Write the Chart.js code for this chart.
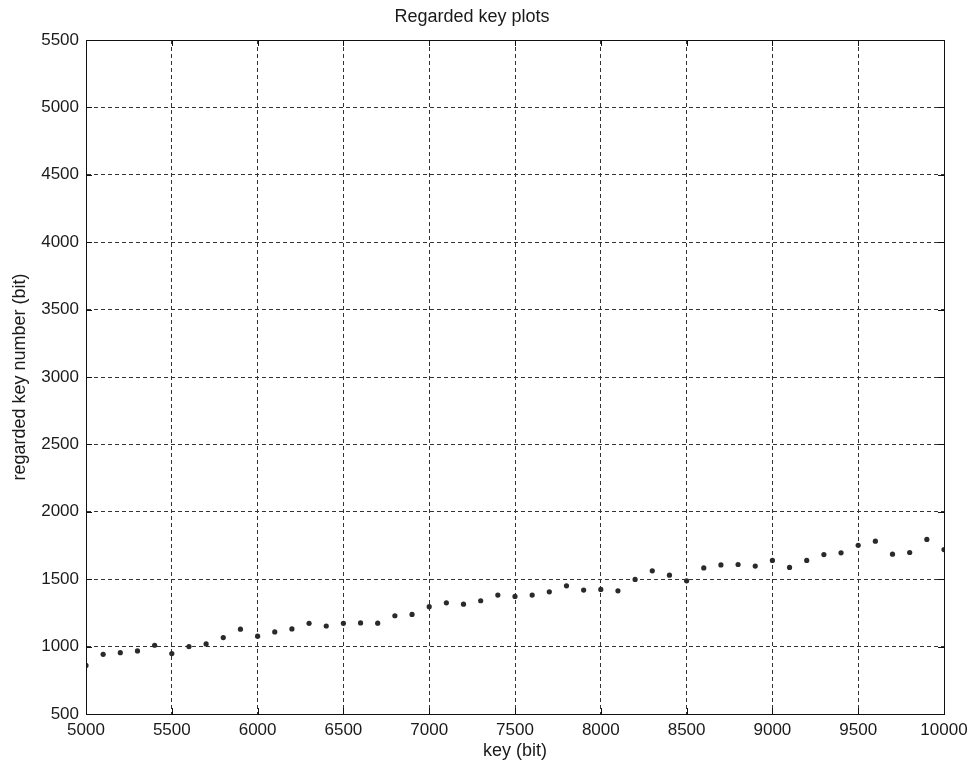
<!DOCTYPE html>
<html>
<head>
<meta charset="utf-8">
<script src="https://cdn.jsdelivr.net/npm/chart.js@4/dist/chart.umd.min.js"></script>
<style>
  html, body { margin: 0; padding: 0; background: #fff; }
  #wrap { width: 974px; height: 762px; }
</style>
</head>
<body>
<div id="wrap"><canvas id="grafico"></canvas></div>
<script>
// key sizes (bit), one point every 100
const chaves = [
  5000, 5100, 5200, 5300, 5400, 5500, 5600, 5700, 5800, 5900,
  6000, 6100, 6200, 6300, 6400, 6500, 6600, 6700, 6800, 6900,
  7000, 7100, 7200, 7300, 7400, 7500, 7600, 7700, 7800, 7900,
  8000, 8100, 8200, 8300, 8400, 8500, 8600, 8700, 8800, 8900,
  9000, 9100, 9200, 9300, 9400, 9500, 9600, 9700, 9800, 9900,
  10000
];

// regarded key number (bit)
const chavesConsideradas = [
  860, 943, 955, 968, 1010, 948, 1000, 1020, 1067, 1129,
  1077, 1109, 1131, 1173, 1153, 1173, 1176, 1174, 1229, 1239,
  1296, 1325, 1315, 1340, 1382, 1372, 1382, 1406, 1451, 1419,
  1424, 1414, 1498, 1562, 1530, 1488, 1584, 1606, 1609, 1597,
  1639, 1587, 1639, 1683, 1696, 1752, 1782, 1686, 1698, 1795,
  1720
];

const ticksX = [5000, 10000, 500];
const ticksY = [500, 5500, 500];

const pontos = chaves.map((k, i) => ({ x: k, y: chavesConsideradas[i] }));

const familia = "'Liberation Sans', Arial, sans-serif";
const fonteTicks = { family: familia, size: 17 };
const fonteTitulo = { family: familia, size: 18, weight: "normal" };

// moldura da area do grafico + ticks para dentro (estilo matlab)
const moldura = {
  id: "moldura",
  afterDraw(chart) {
    const { ctx, chartArea: a, scales } = chart;
    const tam = 6;
    ctx.save();
    ctx.strokeStyle = "#111";
    ctx.lineWidth = 1;
    ctx.strokeRect(a.left + 0.5, a.top + 0.5, a.right - a.left, a.bottom - a.top);
    ctx.beginPath();
    scales.x.ticks.forEach(t => {
      const px = Math.round(scales.x.getPixelForValue(t.value)) + 0.5;
      ctx.moveTo(px, a.bottom); ctx.lineTo(px, a.bottom - tam);
      ctx.moveTo(px, a.top); ctx.lineTo(px, a.top + tam);
    });
    scales.y.ticks.forEach(t => {
      const py = Math.round(scales.y.getPixelForValue(t.value)) + 0.5;
      ctx.moveTo(a.left, py); ctx.lineTo(a.left + tam, py);
      ctx.moveTo(a.right, py); ctx.lineTo(a.right - tam, py);
    });
    ctx.stroke();
    ctx.restore();
  }
};

new Chart(document.getElementById("grafico"), {
  type: "scatter",
  data: {
    datasets: [{
      data: pontos,
      backgroundColor: "#2a2a2a",
      borderWidth: 0,
      pointRadius: 2.6,
      pointHoverRadius: 2.6
    }]
  },
  options: {
    responsive: true,
    maintainAspectRatio: false,
    animation: false,
    layout: { padding: { right: 30, left: 0, top: 0, bottom: 0 } },
    plugins: {
      legend: { display: false },
      tooltip: { enabled: false },
      title: {
        display: true,
        text: "Regarded key plots",
        color: "#1a1a1a",
        font: fonteTitulo,
        padding: { top: 6, bottom: 12.4 }
      }
    },
    scales: {
      x: {
        type: "linear",
        min: ticksX[0],
        max: ticksX[1],
        ticks: {
          stepSize: ticksX[2], color: "#1a1a1a", font: fonteTicks, padding: 6, maxRotation: 0,
          callback: v => String(v)
        },
        grid: { color: "#333", drawTicks: false },
        border: { display: true, color: "#111", dash: [4, 3] },
        title: { display: true, text: "key (bit)", color: "#1a1a1a", font: fonteTitulo, padding: 0 },
        afterFit(scale) { scale.height = 48; }
      },
      y: {
        type: "linear",
        min: ticksY[0],
        max: ticksY[1],
        ticks: {
          stepSize: ticksY[2], color: "#1a1a1a", font: fonteTicks, padding: 7,
          callback: v => String(v)
        },
        grid: { color: "#333", drawTicks: false },
        border: { display: true, color: "#111", dash: [4, 3] },
        title: { display: true, text: "regarded key number (bit)", color: "#1a1a1a", font: fonteTitulo, padding: 9 },
        afterFit(scale) { scale.width = 86; }
      }
    }
  },
  plugins: [moldura]
});
</script>
</body>
</html>
